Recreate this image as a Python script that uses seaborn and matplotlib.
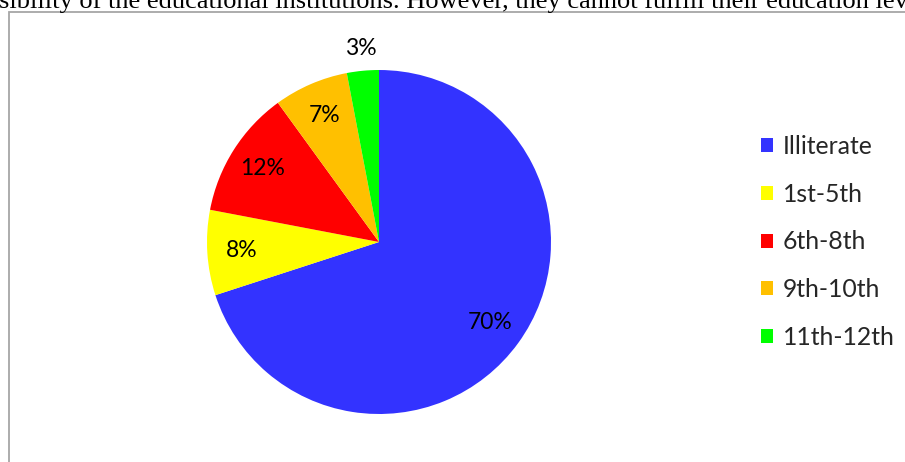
import matplotlib
matplotlib.use("Agg")
import matplotlib.pyplot as plt
import seaborn as sns
import numpy as np
from matplotlib.patches import Patch, Rectangle

categories = ["Illiterate", "1st-5th", "6th-8th", "9th-10th", "11th-12th"]
values = [70, 8, 12, 7, 3]
colors = ["#3333ff", "#ffff00", "#ff0000", "#ffc000", "#00ff00"]
header_text = "sibility of the educational institutions. However, they cannot fulfill their education lev"

sns.set_theme(style="white")
plt.rcParams['font.family'] = ['Lato', 'DejaVu Sans']

W, H = 905, 462
fig = plt.figure(figsize=(W / 100, H / 100), dpi=100)
fig.patch.set_facecolor("white")

# pie axes: centre (379, 242), radius 172 px
cx, cy, r = 379, 242, 172
ax = fig.add_axes([(cx - r) / W, (H - cy - r) / H, 2 * r / W, 2 * r / H])

wedges, texts, autotexts = ax.pie(
    values, colors=colors, startangle=90, counterclock=False,
    autopct=lambda p: f"{p:.0f}%", pctdistance=0.8, radius=1,
    wedgeprops=dict(linewidth=0),
    textprops=dict(fontsize=16.5, color="black"))
ax.set_xlim(-1, 1)
ax.set_ylim(-1, 1)
ax.set_aspect("equal")
ax.axis("off")

# small slice label placed outside (best-fit style)
for t, v in zip(autotexts, values):
    if v < 5:
        x, y = t.get_position()
        t.set_position((x * 1.13 / 0.8, y * 1.13 / 0.8))

# legend
handles = [Patch(facecolor=c, edgecolor="none", label=l) for c, l in zip(colors, categories)]
leg = fig.legend(handles=handles, loc="upper left",
                 bbox_to_anchor=(761 / W, 1 - 135 / H),
                 frameon=False, fontsize=17.8, handlelength=0.48, handleheight=0.48,
                 handletextpad=0.4, labelspacing=1.0, borderaxespad=0, borderpad=0)

# frame of the chart area
fig.patches.append(Rectangle((9 / W, -0.1), 1.2, 1 - 12 / H + 0.1, transform=fig.transFigure,
                             fill=False, edgecolor="#a6a6a6", linewidth=1.3))

# cropped text line above the chart
fig.text(-1 / W, 1 - 8 / H, header_text, ha="left", va="baseline",
         fontsize=19, family=["Liberation Serif"], color="black")

fig.savefig("out.png", dpi=100, facecolor="white")
